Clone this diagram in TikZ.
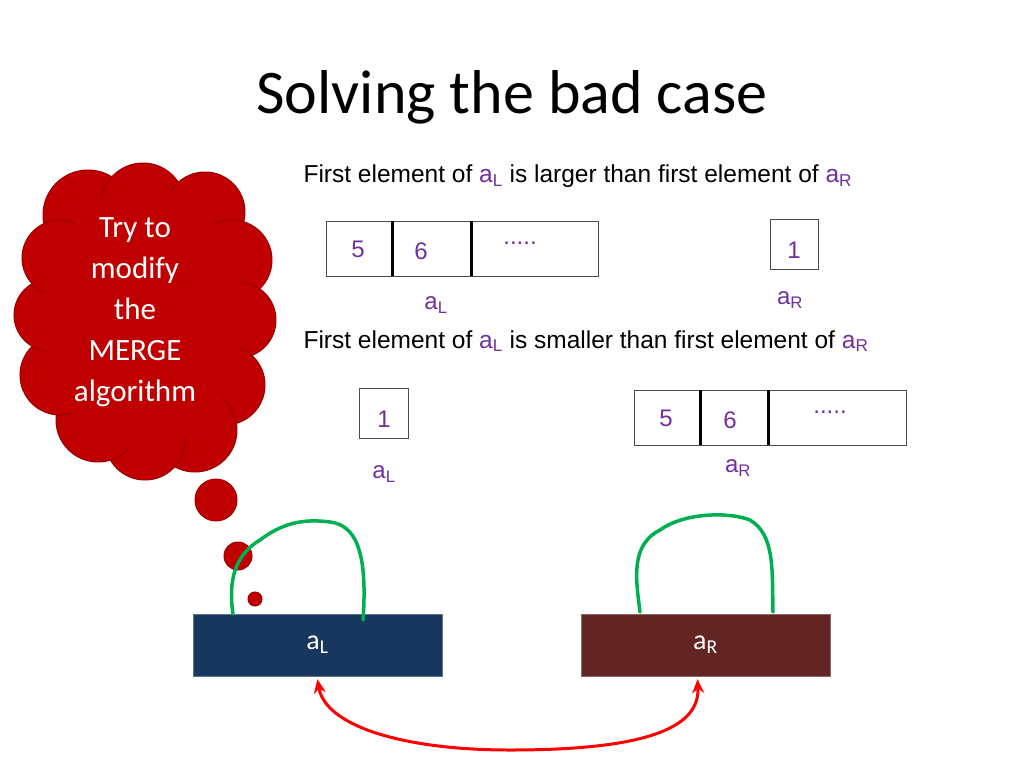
\documentclass[tikz,border=0pt]{standalone}
\usepackage{fontspec}
\setmainfont{Carlito}
\newfontfamily\arial{Liberation Sans}
\usetikzlibrary{arrows.meta,calc}
\definecolor{pur}{HTML}{7030A0}
\definecolor{cloud}{HTML}{C00000}
\definecolor{cloudd}{HTML}{9A0000}
\definecolor{navy}{HTML}{17375E}
\definecolor{brown}{HTML}{632523}
\definecolor{grn}{HTML}{00B050}
\begin{document}
\begin{tikzpicture}[x=1pt,y=-1pt,
 body/.style={font=\arial\fontsize{24.5}{28}\selectfont,anchor=west},
 num/.style={font=\arial\fontsize{24}{28}\selectfont,text=pur},
 cell/.style={draw=black!70,line width=0.8pt},
 bar/.style={line width=3pt},
 blob/.style={fill=cloud,draw=cloudd,line width=1pt},
 curve/.style={draw=grn,line width=3.5pt,line cap=round}]
\useasboundingbox (0,0) rectangle (1024,768);
\node (title) at (512,97) {\fontsize{62}{68}\selectfont Solving the bad case};
\node[body] (t1) at (300,176) {First element of \textcolor{pur}{a\textsubscript{L}} is larger than first element of \textcolor{pur}{a\textsubscript{R}}};
\node[body] (t2) at (300,341) {First element of \textcolor{pur}{a\textsubscript{L}} is smaller than first element of \textcolor{pur}{a\textsubscript{R}}};
% top arrays
\draw[cell] (326,221) rectangle (598,276);
\draw[bar] (392,221) -- (392,276); \draw[bar] (471,221) -- (471,276);
\node[num] (n5a) at (358,249) {5};
\node[num] (n6a) at (421,251) {6};
\node[num] (dta) at (520,243) {.....};
\draw[cell] (770,219) rectangle (818,269);
\node[num] (n1a) at (794,250) {1};
\node[num] (al1) at (436,305) {a\textsubscript{L}};
\node[num] (ar1) at (790,300) {a\textsubscript{R}};
% bottom arrays
\draw[cell] (359,388) rectangle (408,438);
\node[num] (n1b) at (384,419) {1};
\node[num] (al2) at (384,474) {a\textsubscript{L}};
\draw[cell] (634,390) rectangle (906,445);
\draw[bar] (700,390) -- (700,445); \draw[bar] (768,390) -- (768,445);
\node[num] (n5b) at (666,418) {5};
\node[num] (n6b) at (730,420) {6};
\node[num] (dtb) at (830,412) {.....};
\node[num] (ar2) at (738,468) {a\textsubscript{R}};
% cloud
\foreach \x/\y/\r in {88/215/45,143/205/42,205/212/40,232/260/40,238/320/38,225/385/40,195/430/42,145/440/40,98/420/42,60/375/40,50/315/36,60/258/38}
  \draw[blob] (\x,\y) circle (\r);
\fill[cloud] (143,318) ellipse (100 and 130);
\node[text=white,align=center,font=\fontsize{31}{41}\selectfont] (cl) at (135,312) {Try to\\modify\\the\\MERGE\\algorithm};
\draw[blob] (216,500) circle (21);
\draw[blob] (238,556) circle (14);
\draw[blob] (255,599) circle (7);
% bars
\node[fill=navy,draw=navy!70,minimum width=249,minimum height=62,inner sep=0,text=white,font=\fontsize{28}{30}\selectfont] (aL) at (317.5,645) {a\textsubscript{L}};
\node[fill=brown,draw=brown!70,minimum width=249,minimum height=62,inner sep=0,text=white,font=\fontsize{28}{30}\selectfont] (aR) at (705.5,645) {a\textsubscript{R}};
\draw[curve] (233,614) .. controls (228,580) and (235,555) .. (260,540) .. controls (280,525) and (300,518) .. (330,522) .. controls (355,525) and (368,550) .. (363,620);
\draw[curve] (640,612) .. controls (636,580) and (630,545) .. (660,530) .. controls (685,512) and (730,512) .. (750,520) .. controls (775,535) and (772,570) .. (773,612);
\draw[red,line width=3pt,{Stealth[length=14pt,width=12pt]}-{Stealth[length=14pt,width=12pt]}] ($(aL.south)+(0,3)$) .. controls (325,725) and (400,750) .. (510,750) .. controls (640,750) and (700,730) .. ($(aR.south)+(-8,3)$);
\end{tikzpicture}
\end{document}
